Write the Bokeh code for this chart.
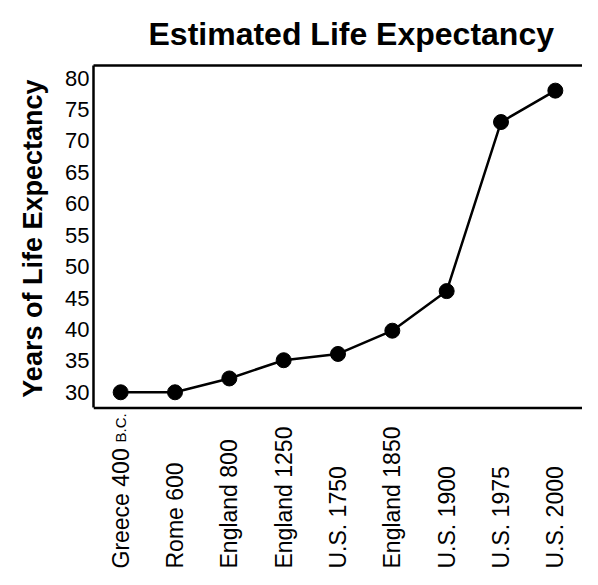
import math
from bokeh.plotting import figure
from bokeh.models import (ColumnDataSource, FactorRange, Range1d, CategoricalAxis,
                          LabelSet, FixedTicker, Span, Title)
from bokeh.core.properties import value
from bokeh.embed import file_html
from bokeh.resources import INLINE

# ---- data ----
categories = ["Greece 400 B.C.", "Rome 600", "England 800", "England 1250", "U.S. 1750",
              "England 1850", "U.S. 1900", "U.S. 1975", "U.S. 2000"]
label_main = ["Greece 400", "Rome 600", "England 800", "England 1250", "U.S. 1750",
              "England 1850", "U.S. 1900", "U.S. 1975", "U.S. 2000"]
label_suffix = ["B.C.", "", "", "", "", "", "", "", ""]
life_expectancy = [30, 30, 32.2, 35.1, 36.1, 39.8, 46.1, 73, 78]
y_ticks = [30, 35, 40, 45, 50, 55, 60, 65, 70, 75, 80]
y_box = (27.5, 82)          # visible value box
y_view_start = 1.8          # frame extends below the box to hold the category labels

FONT = "Liberation Sans"

src = ColumnDataSource(dict(cat=categories, y=life_expectancy,
                            main=label_main, suffix=label_suffix))

p = figure(width=582, height=569,
           x_range=FactorRange(*categories, range_padding=0),
           y_range=Range1d(y_view_start, y_box[1]),
           x_axis_location=None,
           output_backend="svg", toolbar_location=None,
           min_border_left=90, min_border_right=0, min_border_bottom=0,
           min_border_top=10)
p.outline_line_color = None
p.background_fill_color = "white"
p.border_fill_color = "white"
p.grid.visible = False

# Title
p.title.text = "Estimated Life Expectancy"
p.title.text_font = FONT
p.title.text_font_size = "32px"
p.title.text_font_style = "bold"
p.title.align = "left"
p.title.offset = 55
p.title.text_color = "black"
p.title.standoff = 27

# Y axis (acts as left side of box)
yax = p.yaxis[0]
yax.ticker = FixedTicker(ticks=y_ticks)
yax.bounds = y_box
yax.axis_line_width = 2.5
yax.axis_line_color = "black"
yax.major_tick_in = 0
yax.major_tick_out = 0
yax.minor_tick_line_color = None
yax.major_label_text_font = FONT
yax.major_label_text_font_size = "22px"
yax.major_label_text_color = "black"
yax.major_label_standoff = 4

# Y axis title, aligned to the top of the value box
ytitle = Title(text="Years of Life Expectancy", align="right", offset=14,
               text_font=FONT, text_font_size="27px", text_font_style="bold",
               text_color="black", standoff=30)
p.add_layout(ytitle, "left")

# Top side of box
top = CategoricalAxis(axis_line_width=2.5, axis_line_color="black",
                      major_tick_in=0, major_tick_out=0,
                      major_label_text_font_size="0px", major_label_text_alpha=0)
p.add_layout(top, "above")

# Bottom side of box
p.add_layout(Span(location=y_box[0], dimension="width", line_color="black", line_width=2.5))

# Line + markers
p.line(x="cat", y="y", source=src, line_color="black", line_width=2.5)
p.scatter(x="cat", y="y", source=src, size=15, fill_color="black", line_color="black")

# Category labels, bottom-aligned, reading upwards
labels = LabelSet(x="cat", y=1, y_units="screen", text="main", source=src,
                  angle=math.pi / 2, text_align="left", text_baseline="middle",
                  text_font=value(FONT), text_font_size="23px", text_color="black")
p.add_layout(labels)
suffix = LabelSet(x="cat", y=127, y_units="screen", text="suffix", source=src,
                  angle=math.pi / 2, text_align="left", text_baseline="middle",
                  text_font=value(FONT), text_font_size="15px", text_color="black")
p.add_layout(suffix)

open("out.html", "w").write(file_html(p, INLINE))
